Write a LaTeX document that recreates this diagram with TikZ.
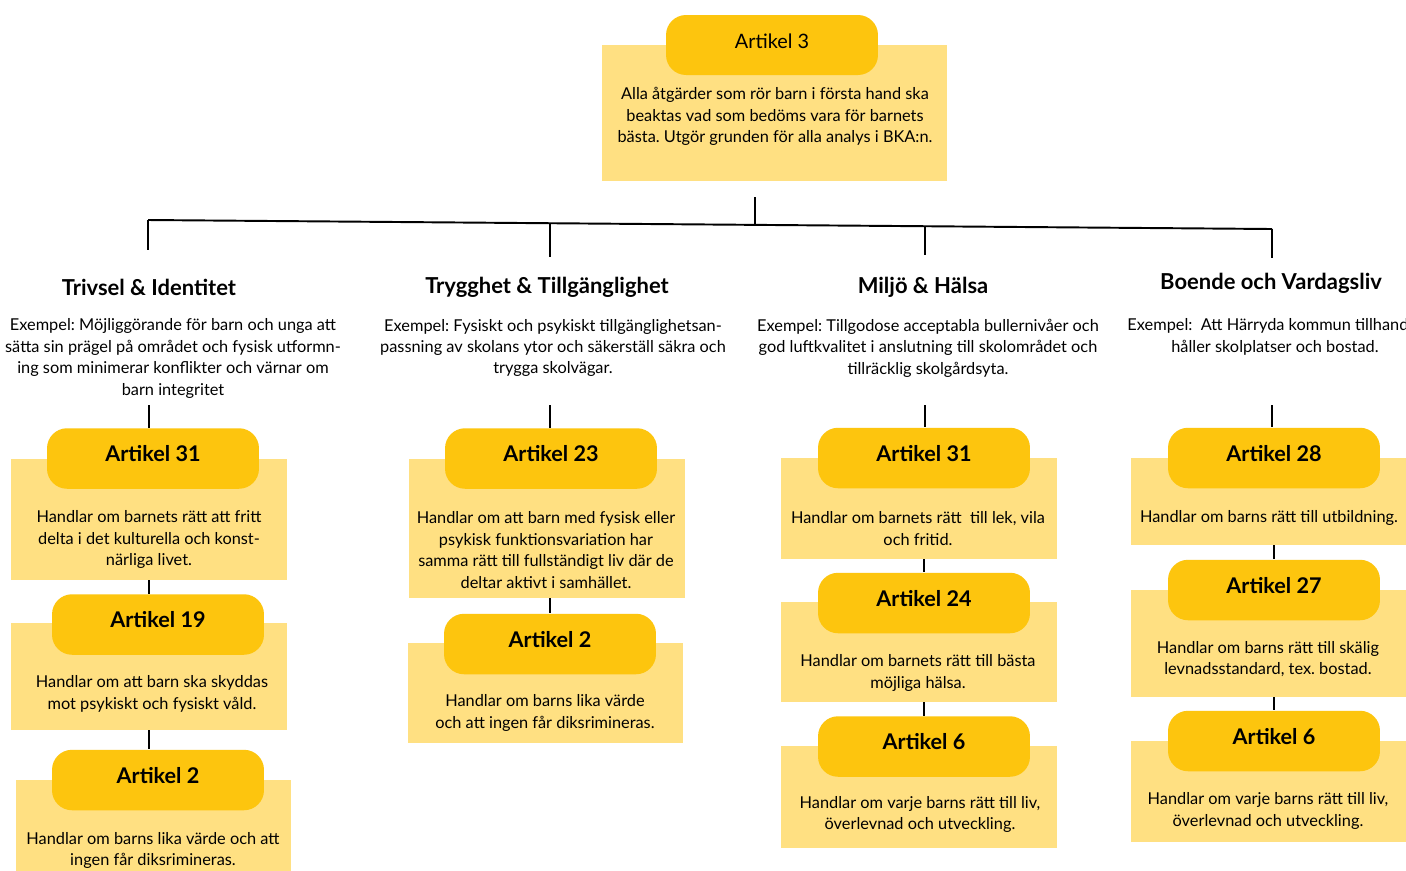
\documentclass[tikz,border=0pt]{standalone}
\usepackage{fontspec}
\setmainfont{Lato}
\frenchspacing
\definecolor{gold}{RGB}{253,197,14}
\definecolor{lite}{RGB}{255,224,130}
\tikzset{
  litebox/.style={fill=lite, minimum width=5.52cm, inner sep=0pt},
  goldbox/.style={fill=gold, rounded corners=0.4cm, minimum width=4.24cm,
    minimum height=1.21cm, text height=0.32cm, text depth=0.2cm,
    font=\fontsize{12.3}{14}\selectfont\bfseries},
  body/.style={align=center, inner sep=1pt, font=\fontsize{9.3}{12.2}\selectfont},
  head/.style={font=\fontsize{12.5}{14}\selectfont\bfseries},
  link/.style={line width=1.1pt}
}
\begin{document}
\begin{tikzpicture}[x=0.02cm, y=-0.02cm]
  \useasboundingbox[fill=white] (0,0) rectangle (1406,870);
  % Artikel 3
  \node[litebox, minimum width=6.9cm, minimum height=2.72cm] (l0) at (774.5,113) {};
  \node[goldbox, minimum height=1.2cm, font=\fontsize{11.3}{13}\selectfont] (d0) at (772,45) {Artikel 3};
  \node[body] (t0) at (775,116.5) {Alla åtgärder som rör barn i första hand ska\\
    beaktas vad som bedöms vara för barnets\\bästa. Utgör grunden för alla analys i BKA:n.};
  % tree
  \coordinate (s0) at (755,197);
  \coordinate (bus) at (755,224.9);
  \coordinate (b1) at (148,220);  \coordinate (f1) at (148,250);
  \coordinate (b2) at (550,223.2); \coordinate (f2) at (550,257);
  \coordinate (b3) at (925,226.2); \coordinate (f3) at (925,255);
  \coordinate (b4) at (1272,229); \coordinate (f4) at (1272,258);
  \draw[link] (s0) -- (bus);
  \draw[link] (b1) -- (b4);
  \foreach \i in {1,...,4}
    \draw[link] (b\i) -- (f\i);
  % headings
  \node[head] (h1) at (149,287) {Trivsel \& Identitet};
  \node[head] (h2) at (547,287) {Trygghet \& Tillgänglighet};
  \node[head] (h3) at (923,287) {Miljö \& Hälsa};
  \node[head] (h4) at (1271,283) {Boende och Vardagsliv};
  \node[body] (e1) at (173,358.5) {Exempel: Möjliggörande för barn och unga att\\
    sätta sin prägel på området och fysisk utformn-\\ing som minimerar konflikter och värnar om\\barn integritet};
  \node[body] (e2) at (553,348) {Exempel: Fysiskt och psykiskt tillgänglighetsan-\\
    passning av skolans ytor och säkerställ säkra och\\trygga skolvägar.};
  \node[body] (e3) at (928,348) {Exempel: Tillgodose acceptabla bullernivåer och\\
    god luftkvalitet i anslutning till skolområdet och\\tillräcklig skolgårdsyta.};
  \node[body] (e4) at (1275,337) {Exempel: \ Att Härryda kommun tillhanda-\\håller skolplatser och bostad.};
  \coordinate (k1) at (149,405);
  \coordinate (k2) at (550,405);
  \coordinate (k3) at (925,405);
  \coordinate (k4) at (1272,405);
  % Trivsel & Identitet
  \node[litebox, minimum height=2.42cm] (l11) at (149,519.5) {};
  \node[goldbox] (d11) at (153,458.5) {Artikel 31};
  \node[body] (t11) at (149,539.5) {Handlar om barnets rätt att fritt\\delta i det kulturella och konst-\\närliga livet.};
  \node[litebox, minimum height=2.14cm] (l12) at (149,676.5) {};
  \node[goldbox] (d12) at (158,624.5) {Artikel 19};
  \node[body] (t12) at (152,694) {Handlar om att barn ska skyddas\\mot psykiskt och fysiskt våld.};
  \node[litebox, minimum height=2.4cm] (l13) at (153.5,840) {};
  \node[goldbox] (d13) at (158,780) {Artikel 2};
  \node[body] (t13) at (153,850.5) {Handlar om barns lika värde och att\\ingen får diksrimineras.};
  % Trygghet & Tillgänglighet
  \node[litebox, minimum height=2.78cm] (l21) at (547,528.5) {};
  \node[goldbox] (d21) at (551,458.5) {Artikel 23};
  \node[body] (t21) at (546,550) {Handlar om att barn med fysisk eller\\psykisk funktionsvariation har\\
    samma rätt till fullständigt liv där de\\deltar aktivt i samhället.};
  \node[litebox, minimum height=2.0cm] (l22) at (545.5,693) {};
  \node[goldbox] (d22) at (550,644) {Artikel 2};
  \node[body] (t22) at (545,713) {Handlar om barns lika värde\\och att ingen får diksrimineras.};
  % Miljö & Hälsa
  \node[litebox, minimum height=2.02cm] (l31) at (919,508.5) {};
  \node[goldbox] (d31) at (924,458) {Artikel 31};
  \node[body] (t31) at (918,528.5) {Handlar om barnets rätt \ till lek, vila\\och fritid.};
  \node[litebox, minimum height=2.0cm] (l32) at (919,652) {};
  \node[goldbox] (d32) at (924,603) {Artikel 24};
  \node[body] (t32) at (918,673) {Handlar om barnets rätt till bästa\\möjliga hälsa.};
  \node[litebox, minimum height=2.04cm] (l33) at (919,797) {};
  \node[goldbox] (d33) at (924,746.5) {Artikel 6};
  \node[body] (t33) at (920,814.5) {Handlar om varje barns rätt till liv,\\överlevnad och utveckling.};
  % Boende och Vardagsliv
  \node[litebox, minimum height=1.74cm] (l41) at (1269,501.5) {};
  \node[goldbox] (d41) at (1274,458) {Artikel 28};
  \node[body] (t41) at (1269,518) {Handlar om barns rätt till utbildning.};
  \node[litebox, minimum height=2.14cm] (l42) at (1269,643.5) {};
  \node[goldbox] (d42) at (1274,590) {Artikel 27};
  \node[body] (t42) at (1268,659) {Handlar om barns rätt till skälig\\levnadsstandard, tex. bostad.};
  \node[litebox, minimum height=2.02cm] (l43) at (1269,791.5) {};
  \node[goldbox] (d43) at (1274,741) {Artikel 6};
  \node[body] (t43) at (1268,811) {Handlar om varje barns rätt till liv,\\överlevnad och utveckling.};
  % links
  \draw[link] (k1) -- (k1 |- d11.north);
  \draw[link] (l11.south) -- (l11.south |- d12.north);
  \draw[link] (l12.south) -- (l12.south |- d13.north);
  \draw[link] (k2) -- (k2 |- d21.north);
  \draw[link] (d22.north |- l21.south) -- (d22.north);
  \draw[link] (k3) -- (k3 |- d31.north);
  \draw[link] (d32.north |- l31.south) -- (d32.north);
  \draw[link] (d33.north |- l32.south) -- (d33.north);
  \draw[link] (k4) -- (k4 |- d41.north);
  \draw[link] (d42.north |- l41.south) -- (d42.north);
  \draw[link] (d43.north |- l42.south) -- (d43.north);
\end{tikzpicture}
\end{document}
